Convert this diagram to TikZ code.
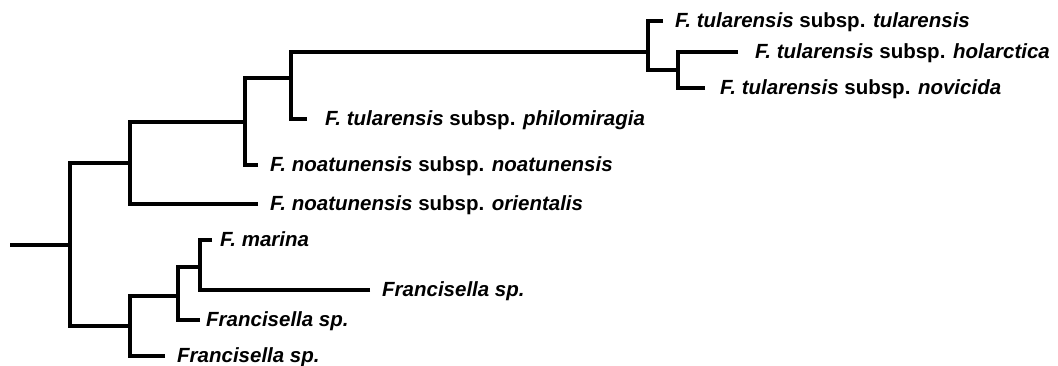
\documentclass[tikz,border=0pt]{standalone}
\usepackage{fontspec}
\setmainfont{Liberation Sans}
\begin{document}
\begin{tikzpicture}[x=1pt,y=-1pt,
  branch/.style={line width=3.3pt,line join=miter,line cap=butt},
  taxon/.style={anchor=base west,inner sep=0pt,font=\fontsize{20.5}{24}\selectfont\bfseries}]
\useasboundingbox (0,0) rectangle (1058,365);
% internal nodes: (x of the vertical bar, y where the parent branch enters)
\coordinate (root) at (10,245);
\coordinate (n0) at (70,245);
\coordinate (n1) at (130,163);
\coordinate (n2) at (245,122);
\coordinate (n3) at (291,78);
\coordinate (n4) at (648,52);
\coordinate (n5) at (678,70);
\coordinate (m1) at (130,326);
\coordinate (m2) at (178,296);
\coordinate (m3) at (200,267);
% tips of the terminal branches
\coordinate (l1) at (663,21);
\coordinate (l2) at (738,52);
\coordinate (l3) at (705,88);
\coordinate (l4) at (307,119);
\coordinate (l5) at (258,165);
\coordinate (l6) at (258,204);
\coordinate (l7) at (212,240);
\coordinate (l8) at (370,290);
\coordinate (l9) at (200,320);
\coordinate (l10) at (165,356);
% taxon labels
\node[taxon] (t1) at (675,27) {\textit{F. tularensis} subsp. \textit{tularensis}};
\node[taxon] (t2) at (755,58) {\textit{F. tularensis} subsp. \textit{holarctica}};
\node[taxon] (t3) at (720,94) {\textit{F. tularensis} subsp. \textit{novicida}};
\node[taxon] (t4) at (325,125) {\textit{F. tularensis} subsp. \textit{philomiragia}};
\node[taxon] (t5) at (270,171) {\textit{F. noatunensis} subsp. \textit{noatunensis}};
\node[taxon] (t6) at (270,210) {\textit{F. noatunensis} subsp. \textit{orientalis}};
\node[taxon] (t7) at (220,246) {\textit{F. marina}};
\node[taxon] (t8) at (382,296) {\textit{Francisella sp.}};
\node[taxon] (t9) at (206,326) {\textit{Francisella sp.}};
\node[taxon] (t10) at (177,362) {\textit{Francisella sp.}};
% branches
\begin{scope}[branch]
\draw (root) -- (n0);
\draw (n1) -| (n0); \draw (m1) -| (n0);
\draw (n2) -| (n1); \draw (l6) -| (n1);
\draw (n3) -| (n2); \draw (l5) -| (n2);
\draw (n4) -| (n3); \draw (l4) -| (n3);
\draw (l1) -| (n4); \draw (n5) -| (n4);
\draw (l2) -| (n5); \draw (l3) -| (n5);
\draw (m2) -| (m1); \draw (l10) -| (m1);
\draw (m3) -| (m2); \draw (l9) -| (m2);
\draw (l7) -| (m3); \draw (l8) -| (m3);
\end{scope}
\end{tikzpicture}
\end{document}
